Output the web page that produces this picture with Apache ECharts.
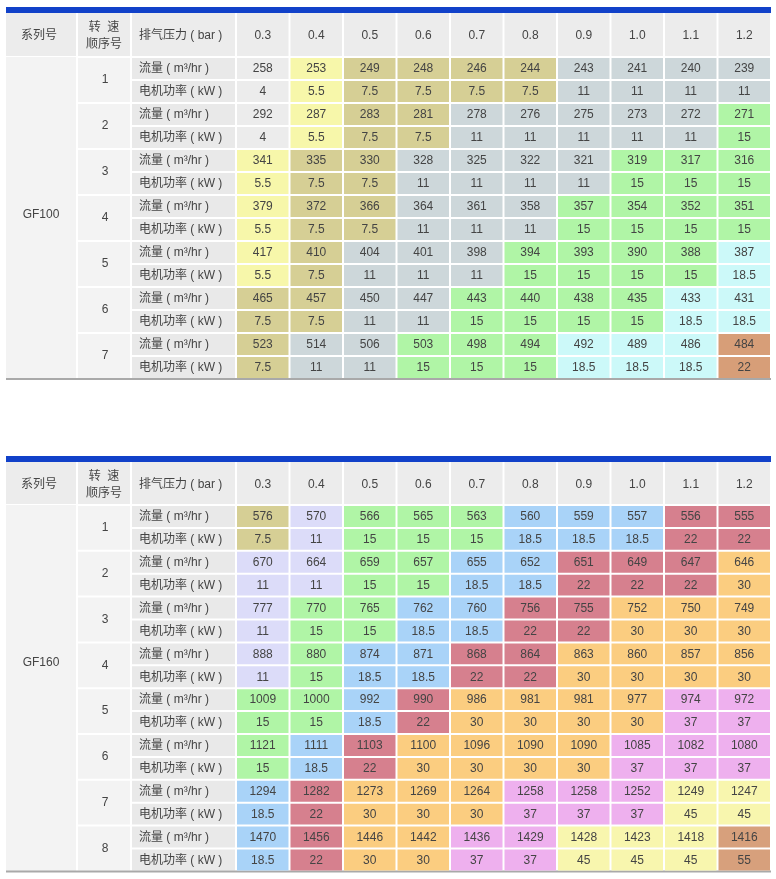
<!DOCTYPE html>
<html>
<head>
<meta charset="utf-8">
<script src="https://cdn.jsdelivr.net/npm/echarts@6/dist/echarts.min.js"></script>
<style>
html, body { margin: 0; padding: 0; background: #fff; }
#main { width: 776px; height: 879px; }
</style>
</head>
<body>
<div id="main"></div>
<script>
var pressures = ['0.3', '0.4', '0.5', '0.6', '0.7', '0.8', '0.9', '1.0', '1.1', '1.2'];

var gf100Flow = [
    [258, 253, 249, 248, 246, 244, 243, 241, 240, 239],
    [292, 287, 283, 281, 278, 276, 275, 273, 272, 271],
    [341, 335, 330, 328, 325, 322, 321, 319, 317, 316],
    [379, 372, 366, 364, 361, 358, 357, 354, 352, 351],
    [417, 410, 404, 401, 398, 394, 393, 390, 388, 387],
    [465, 457, 450, 447, 443, 440, 438, 435, 433, 431],
    [523, 514, 506, 503, 498, 494, 492, 489, 486, 484]
];
var gf100Power = [
    [4, 5.5, 7.5, 7.5, 7.5, 7.5, 11, 11, 11, 11],
    [4, 5.5, 7.5, 7.5, 11, 11, 11, 11, 11, 15],
    [5.5, 7.5, 7.5, 11, 11, 11, 11, 15, 15, 15],
    [5.5, 7.5, 7.5, 11, 11, 11, 15, 15, 15, 15],
    [5.5, 7.5, 11, 11, 11, 15, 15, 15, 15, 18.5],
    [7.5, 7.5, 11, 11, 15, 15, 15, 15, 18.5, 18.5],
    [7.5, 11, 11, 15, 15, 15, 18.5, 18.5, 18.5, 22]
];
var gf160Flow = [
    [576, 570, 566, 565, 563, 560, 559, 557, 556, 555],
    [670, 664, 659, 657, 655, 652, 651, 649, 647, 646],
    [777, 770, 765, 762, 760, 756, 755, 752, 750, 749],
    [888, 880, 874, 871, 868, 864, 863, 860, 857, 856],
    [1009, 1000, 992, 990, 986, 981, 981, 977, 974, 972],
    [1121, 1111, 1103, 1100, 1096, 1090, 1090, 1085, 1082, 1080],
    [1294, 1282, 1273, 1269, 1264, 1258, 1258, 1252, 1249, 1247],
    [1470, 1456, 1446, 1442, 1436, 1429, 1428, 1423, 1418, 1416]
];
var gf160Power = [
    [7.5, 11, 15, 15, 15, 18.5, 18.5, 18.5, 22, 22],
    [11, 11, 15, 15, 18.5, 18.5, 22, 22, 22, 30],
    [11, 15, 15, 18.5, 18.5, 22, 22, 30, 30, 30],
    [11, 15, 18.5, 18.5, 22, 22, 30, 30, 30, 30],
    [15, 15, 18.5, 22, 30, 30, 30, 30, 37, 37],
    [15, 18.5, 22, 30, 30, 30, 30, 37, 37, 37],
    [18.5, 22, 30, 30, 30, 37, 37, 37, 45, 45],
    [18.5, 22, 30, 30, 37, 37, 45, 45, 45, 55]
];

// fill colour by motor power, per table
var gf100Colors = { '4': '#ececec', '5.5': '#f7f7aa', '7.5': '#d6cf95', '11': '#cdd7da', '15': '#b0f5a6', '18.5': '#ccf9f9', '22': '#d79e78' };
var gf160Colors = { '7.5': '#d6cf95', '11': '#dcdcf9', '15': '#b0f5a6', '18.5': '#a9d3f8', '22': '#d6808e', '30': '#fbcd80', '37': '#eeb0ee', '45': '#f8f6ae', '55': '#d7a07c' };

var FONT = '12px "Liberation Sans", "Noto Sans CJK SC", sans-serif';
var TXT = '#444';

var tables = [
    { name: 'GF100', flow: gf100Flow, power: gf100Power, colors: gf100Colors, top: 57, rowH: 23, headH: 44 },
    { name: 'GF160', flow: gf160Flow, power: gf160Power, colors: gf160Colors, top: 505, rowH: 22.9, headH: 43 }
];

var chart = echarts.init(document.getElementById('main'));
var grids = [], xAxes = [], yAxes = [], series = [];

function txt(t, x, y, align) {
    return { type: 'text', style: { text: t, x: x, y: y, align: align || 'center', verticalAlign: 'middle', font: FONT, fill: TXT, lineHeight: 17 } };
}
function box(x, y, w, h, fill) {
    return { type: 'rect', shape: { x: x, y: y, width: w, height: h }, style: { fill: fill } };
}

tables.forEach(function (t, ti) {
    var nRows = t.flow.length * 2;
    var rows = [];
    for (var i = 0; i < t.flow.length; i++) { rows.push((i + 1) + '-flow', (i + 1) + '-power'); }

    grids.push({ left: 236, right: 5, top: t.top, height: nRows * t.rowH });
    xAxes.push({
        type: 'category', gridIndex: ti, data: pressures, position: 'top', z: 10,
        axisLine: { show: false }, axisTick: { show: false }, splitLine: { show: false },
        axisLabel: { color: TXT, fontSize: 12, fontFamily: 'Liberation Sans', margin: t.headH / 2 - 7 }
    });
    yAxes.push({
        type: 'category', gridIndex: ti, data: rows, inverse: true,
        axisLine: { show: false }, axisTick: { show: false }, axisLabel: { show: false }, splitLine: { show: false }
    });

    // value cells
    var cells = [];
    t.flow.forEach(function (row, si) {
        row.forEach(function (v, pi) {
            var col = t.colors[String(t.power[si][pi])];
            cells.push({ x: pi, y: si * 2, text: String(v), color: col });
            cells.push({ x: pi, y: si * 2 + 1, text: String(t.power[si][pi]), color: col });
        });
    });
    series.push({
        type: 'custom', xAxisIndex: ti, yAxisIndex: ti, silent: true, z: 2,
        data: cells.map(function (c) { return [c.x, c.y]; }),
        renderItem: function (params, api) {
            var d = cells[params.dataIndex];
            var c = api.coord([d.x, d.y]);
            var s = api.size([1, 1]);
            return { type: 'group', children: [
                box(c[0] - s[0] / 2 + 1, c[1] - s[1] / 2 + 1, s[0] - 2, s[1] - 2, d.color),
                txt(d.text, c[0], c[1] + 0.5)
            ] };
        }
    });

    // header band, row labels, speed and series columns
    series.push({
        type: 'custom', xAxisIndex: ti, yAxisIndex: ti, silent: true, z: 1,
        data: [[0, 0]],
        renderItem: function (params, api) {
            var c0 = api.coord([0, 0]);
            var s = api.size([1, 1]);
            var gL = c0[0] - s[0] / 2;
            var gT = c0[1] - s[1] / 2;
            var gR = api.coord([pressures.length - 1, 0])[0] + s[0] / 2;
            var hT = gT - t.headH;
            var ch = [];
            ch.push(box(gL - 230, hT - 6, gR - gL + 230, 6, '#1141c9'));
            // header cells
            ch.push(box(gL - 230, hT, 70, t.headH - 1, '#ececec'));
            ch.push(box(gL - 158, hT, 52, t.headH - 1, '#ececec'));
            ch.push(box(gL - 104, hT, 103, t.headH - 1, '#ececec'));
            for (var p = 0; p < pressures.length; p++) {
                ch.push(box(gL + p * s[0] + 1, hT, s[0] - 2, t.headH - 1, '#ececec'));
            }
            ch.push(txt('系列号', gL - 197, hT + t.headH / 2 + 1));
            ch.push(txt('转  速\n顺序号', gL - 132, hT + t.headH / 2 + 1.5));
            ch.push(txt('排气压力 ( bar )', gL - 97, hT + t.headH / 2 + 1, 'left'));
            // series column
            ch.push(box(gL - 230, gT, 70, nRows * s[1], '#f3f3f3'));
            ch.push(txt(t.name, gL - 195, gT + 7 * s[1] - 3));
            // speed column and row labels
            for (var i = 0; i < t.flow.length; i++) {
                var y = gT + i * 2 * s[1];
                ch.push(box(gL - 158, y + 1, 52, 2 * s[1] - 2, '#f3f3f3'));
                ch.push(txt(String(i + 1), gL - 131, y + s[1]));
                ch.push(box(gL - 104, y + 1, 103, s[1] - 2, '#e9e9e9'));
                ch.push(box(gL - 104, y + s[1] + 1, 103, s[1] - 2, '#e9e9e9'));
                ch.push(txt('流量 ( m³/hr )', gL - 97, y + s[1] / 2 + 0.5, 'left'));
                ch.push(txt('电机功率 ( kW )', gL - 97, y + s[1] * 1.5 + 0.5, 'left'));
            }
            // bottom rule
            ch.push(box(gL - 230, gT + nRows * s[1] - 1, gR - gL + 230, 2, '#a9a9a9'));
            return { type: 'group', children: ch };
        }
    });
});

var option = {
    backgroundColor: '#fff',
    animation: false,
    grid: grids,
    xAxis: xAxes,
    yAxis: yAxes,
    series: series
};

chart.setOption(option);

window.addEventListener('resize', function () {
    chart.resize();
});
</script>
</body>
</html>
